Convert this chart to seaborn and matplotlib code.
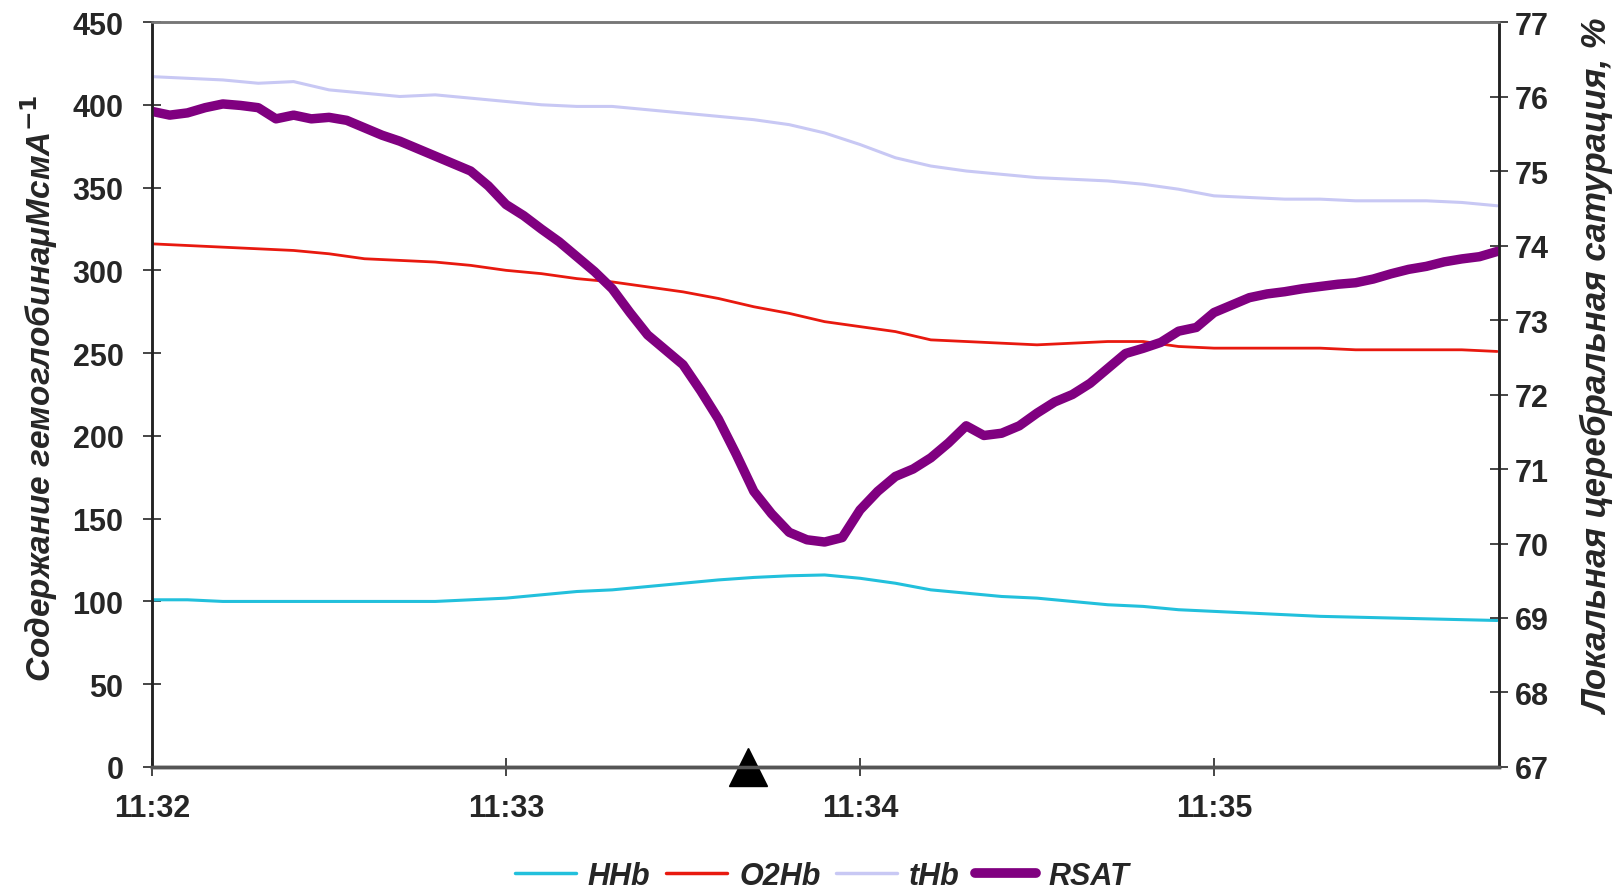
import numpy as np
import pandas as pd
import matplotlib
matplotlib.use("Agg")
import matplotlib.pyplot as plt
import seaborn as sns
from matplotlib.lines import Line2D

# time in seconds from 11:32:00
sec_thin = [0, 6, 12, 18, 24, 30, 36, 42, 48, 54, 60, 66, 72, 78, 84, 90, 96, 102,
            108, 114, 120, 126, 132, 138, 144, 150, 156, 162, 168, 174, 180, 186,
            192, 198, 204, 210, 216, 222, 228]

hhb = [101, 101, 100, 100, 100, 100, 100, 100, 100, 101, 102, 104, 106, 107, 109,
       111, 113, 114.5, 115.5, 116, 114, 111, 107, 105, 103, 102, 100, 98, 97, 95,
       94, 93, 92, 91, 90.5, 90, 89.5, 89, 88.5]

o2hb = [316, 315, 314, 313, 312, 310, 307, 306, 305, 303, 300, 298, 295, 293, 290,
        287, 283, 278, 274, 269, 266, 263, 258, 257, 256, 255, 256, 257, 257, 254,
        253, 253, 253, 253, 252, 252, 252, 252, 251]

thb = [417, 416, 415, 413, 414, 409, 407, 405, 406, 404, 402, 400, 399, 399, 397,
       395, 393, 391, 388, 383, 376, 368, 363, 360, 358, 356, 355, 354, 352, 349,
       345, 344, 343, 343, 342, 342, 342, 341, 339]

sec_rsat = [0, 3, 6, 9, 12, 15, 18, 21, 24, 27, 30, 33, 36, 39, 42, 45, 48, 51, 54,
            57, 60, 63, 66, 69, 72, 75, 78, 81, 84, 87, 90, 93, 96, 99, 102, 105,
            108, 111, 114, 117, 120, 123, 126, 129, 132, 135, 138, 141, 144, 147,
            150, 153, 156, 159, 162, 165, 168, 171, 174, 177, 180, 183, 186, 189,
            192, 195, 198, 201, 204, 207, 210, 213, 216, 219, 222, 225, 228]

rsat = [75.80, 75.75, 75.78, 75.85, 75.90, 75.88, 75.85, 75.70, 75.75, 75.70,
        75.72, 75.68, 75.58, 75.48, 75.40, 75.30, 75.20, 75.10, 75.00, 74.80,
        74.55, 74.40, 74.22, 74.05, 73.85, 73.65, 73.42, 73.10, 72.80, 72.60,
        72.40, 72.05, 71.67, 71.20, 70.70, 70.40, 70.15, 70.05, 70.02, 70.08,
        70.45, 70.70, 70.90, 71.00, 71.15, 71.35, 71.58, 71.45, 71.48, 71.58,
        71.75, 71.90, 72.00, 72.15, 72.35, 72.55, 72.62, 72.70, 72.85, 72.90,
        73.10, 73.20, 73.30, 73.35, 73.38, 73.42, 73.45, 73.48, 73.50, 73.55,
        73.62, 73.68, 73.72, 73.78, 73.82, 73.85, 73.92]

marker_sec = 101  # event marker, ~11:33:41

tick_sec = [0, 60, 120, 180]
tick_labels = ["11:32", "11:33", "11:34", "11:35"]

colors = {"HHb": "#22c0dc", "O2Hb": "#e8190f", "tHb": "#c8c8f4", "RSAT": "#800080"}

sns.set_style("white")
plt.rcParams["font.family"] = ["Liberation Sans", "DejaVu Sans"]
plt.rcParams["font.weight"] = "bold"

t_thin = np.array(sec_thin) / 60
df = pd.DataFrame({"t": t_thin, "HHb": hhb, "O2Hb": o2hb, "tHb": thb})
df_r = pd.DataFrame({"t": np.array(sec_rsat) / 60, "RSAT": rsat})

fig = plt.figure(figsize=(16.21, 8.95), dpi=100)
ax = fig.add_axes([0.0938, 0.1419, 0.8309, 0.8324])
ax2 = ax.twinx()

sns.lineplot(data=df, x="t", y="HHb", color=colors["HHb"], lw=2.2, ax=ax)
sns.lineplot(data=df, x="t", y="O2Hb", color=colors["O2Hb"], lw=2.0, ax=ax)
sns.lineplot(data=df, x="t", y="tHb", color=colors["tHb"], lw=2.2, ax=ax)
sns.lineplot(data=df_r, x="t", y="RSAT", color=colors["RSAT"], lw=6.8, ax=ax2)

ax.plot([marker_sec / 60], [0], marker="^", color="black", markersize=27,
        clip_on=False, zorder=10)

ax.set_xlim(0, 228.3 / 60)
ax.set_ylim(0, 450)
ax2.set_ylim(67, 77)
ax.set_xticks(np.array(tick_sec) / 60)
ax.set_xticklabels(tick_labels)
ax.set_yticks(range(0, 451, 50))
ax2.set_yticks(range(67, 78))

ax.set_xlabel("")
ax.set_ylabel("")
ax2.set_ylabel("")

for a in (ax, ax2):
    for s in a.spines.values():
        s.set_color("#222222")
        s.set_linewidth(1.8)
    a.spines["top"].set_color("#777777")
    a.spines["bottom"].set_color("#555555")
    a.spines["bottom"].set_linewidth(2.5)

ax.tick_params(axis="y", direction="inout", length=13, width=1.2, pad=14,
               labelsize=22, left=True)
ax.tick_params(axis="x", direction="inout", length=13, width=1.2, pad=12,
               labelsize=22, bottom=True)
ax2.tick_params(axis="y", direction="inout", length=13, width=1.2, pad=5,
                labelsize=22, right=True)
for lab in ax.get_xticklabels() + ax.get_yticklabels() + ax2.get_yticklabels():
    lab.set_fontweight("bold")

fig.text(0.024, 0.566, "Содержание гемоглобинаμМсмА$^{-1}$", rotation=90,
         ha="center", va="center", fontsize=24, fontstyle="italic",
         fontweight="bold")
fig.text(0.986, 0.59, "Локальная церебральная сатурация, %", rotation=90,
         ha="center", va="center", fontsize=25, fontstyle="italic",
         fontweight="bold")

handles = [Line2D([], [], color=colors["HHb"], lw=2.5),
           Line2D([], [], color=colors["O2Hb"], lw=2.5),
           Line2D([], [], color=colors["tHb"], lw=2.5),
           Line2D([], [], color=colors["RSAT"], lw=7)]
leg = fig.legend(handles, ["HHb", "O2Hb", "tHb", "RSAT"], loc="center",
                 bbox_to_anchor=(0.507, 0.02), ncol=4, frameon=False,
                 handlelength=2.0, columnspacing=0.5, handletextpad=0.4,
                 prop={"size": 22, "style": "italic", "weight": "bold"})

fig.savefig("out.png", dpi=100)
